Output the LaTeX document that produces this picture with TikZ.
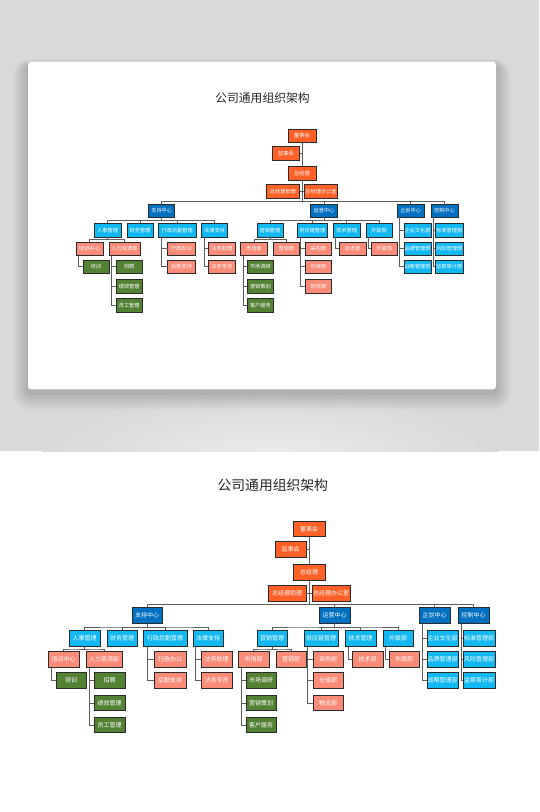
\documentclass[tikz,border=0pt]{standalone}
\usepackage{fontspec}
\newfontfamily\cjk{Noto Sans CJK SC}
\usetikzlibrary{calc,shadows,shadows.blur}
\definecolor{corange}{HTML}{FF6129}
\definecolor{cdblue}{HTML}{0070C0}
\definecolor{clblue}{HTML}{12B8F2}
\definecolor{cpink}{HTML}{F98B78}
\definecolor{cgreen}{HTML}{548235}
\definecolor{cborder}{HTML}{2B2B2B}
\definecolor{cline}{HTML}{5E5E5E}
\definecolor{bggray}{HTML}{D9D9D9}
\definecolor{bglight}{HTML}{ECECEC}
\definecolor{ctitle}{HTML}{262626}
\tikzset{
  box/.style={draw=cborder, line width=0.6pt, text=white,
    font=\cjk\fontsize{6}{7}\selectfont, inner sep=0pt, minimum height=15.5pt,
    drop shadow={shadow xshift=0.7pt, shadow yshift=-0.7pt, fill=black, opacity=0.25}},
  obox/.style={box, fill=corange},
  dbox/.style={box, fill=cdblue},
  lbox/.style={box, fill=clblue},
  pbox/.style={box, fill=cpink},
  gbox/.style={box, fill=cgreen},
  conn/.style={draw=cline, line width=0.7pt},
}
\newcommand\onode[6]{\node[#2, minimum width=#5pt] (#1) at (#3,#4) {#6};}
\newcommand\orgtree[2]{\draw[conn] (#1.south) |- ($(#1.south)!0.5!(#2.north)$) -| (#2.north);}
\newcommand\orgelbow[2]{\draw[conn] ($(#1.south west)!0.1!(#1.south east)$) |- (#2.west);}
\newcommand\orgchart{%
  \onode{dsh}{obox}{309}{529}{32}{董事会}
  \onode{jsh}{obox}{290.5}{549.5}{31}{监事会}
  \onode{zjl}{obox}{309}{572.5}{32}{总经理}
  \onode{zl}{obox}{287}{593.5}{38}{总经理助理}
  \onode{bgs}{obox}{331}{593.5}{38}{总经理办公室}
  \onode{zc}{dbox}{147}{615.5}{30}{支持中心}
  \onode{yy}{dbox}{334.5}{615.5}{31}{运营中心}
  \onode{qh}{dbox}{434.5}{615.5}{31}{企划中心}
  \onode{kz}{dbox}{473.5}{615.5}{31}{控制中心}
  \onode{rs}{lbox}{84.5}{638.5}{31}{人事管理}
  \onode{cw}{lbox}{122}{638.5}{30}{财务管理}
  \onode{xz}{lbox}{165}{638.5}{44}{行政后勤管理}
  \onode{fl}{lbox}{208}{638.5}{30}{法律支持}
  \onode{yx}{lbox}{272}{638.5}{30}{营销管理}
  \onode{gy}{lbox}{321}{638.5}{34}{供应链管理}
  \onode{js}{lbox}{360.5}{638.5}{31}{技术管理}
  \onode{wl}{lbox}{398}{638.5}{30}{外联部}
  \onode{qy}{lbox}{442.5}{638.5}{31}{企业文化部}
  \onode{bz}{lbox}{479}{638.5}{32}{标准管理部}
  \onode{px}{pbox}{63.5}{659.5}{31}{培训中心}
  \onode{rl}{pbox}{104}{659.5}{36}{人力资源部}
  \onode{xzbg}{pbox}{170}{659.5}{32}{行政办公}
  \onode{fwzl}{pbox}{216.5}{659.5}{31}{法务助理}
  \onode{sc}{pbox}{253.5}{659.5}{31}{市场部}
  \onode{yxb}{pbox}{291}{659.5}{30}{营销部}
  \onode{cg}{pbox}{328}{659.5}{30}{采购部}
  \onode{jsb}{pbox}{367.5}{659.5}{31}{技术部}
  \onode{wlb}{pbox}{404}{659.5}{30}{外联部}
  \onode{pp}{lbox}{442.5}{659.5}{31}{品牌管理部}
  \onode{fx}{lbox}{479}{659.5}{32}{风险管理部}
  \onode{pxx}{gbox}{71}{680.5}{30}{培训}
  \onode{zp}{gbox}{109.5}{680.5}{31}{招聘}
  \onode{hq}{pbox}{170}{680.5}{32}{后勤支持}
  \onode{fwzy}{pbox}{216.5}{680.5}{31}{法务专员}
  \onode{scdy}{gbox}{261}{680.5}{30}{市场调研}
  \onode{cc}{pbox}{328}{680.5}{30}{仓储部}
  \onode{zlgl}{lbox}{442.5}{680.5}{31}{战略管理部}
  \onode{jc}{lbox}{479}{680.5}{32}{监察审计部}
  \onode{jx}{gbox}{109.5}{703}{31}{绩效管理}
  \onode{yxch}{gbox}{261}{703}{30}{营销策划}
  \onode{wlx}{pbox}{328}{703}{30}{物流部}
  \onode{yg}{gbox}{109.5}{725}{31}{员工管理}
  \onode{kh}{gbox}{261}{725}{30}{客户服务}
  % connectors
  \draw[conn] (dsh.south) -- (zjl.north);
  \draw[conn] (jsh.east) -- (jsh.east -| dsh.south);
  \draw[conn] (zl.east) -- (bgs.west);
  \coordinate (bus) at ($(zjl.south)!0.89!(zc.north)$);
  \foreach \c in {zc,yy,qh,kz}{\draw[conn] (zjl.south) |- (bus) -| (\c.north);}
  \foreach \c in {rs,cw,xz,fl}{\orgtree{zc}{\c}}
  \foreach \c in {yx,gy,js,wl}{\orgtree{yy}{\c}}
  \foreach \c in {px,rl}{\orgtree{rs}{\c}}
  \foreach \c in {sc,yxb}{\orgtree{yx}{\c}}
  \orgelbow{px}{pxx}
  \foreach \c in {zp,jx,yg}{\orgelbow{rl}{\c}}
  \foreach \c in {xzbg,hq}{\orgelbow{xz}{\c}}
  \foreach \c in {fwzl,fwzy}{\orgelbow{fl}{\c}}
  \foreach \c in {scdy,yxch,kh}{\orgelbow{sc}{\c}}
  \foreach \c in {cg,cc,wlx}{\orgelbow{gy}{\c}}
  \orgelbow{js}{jsb}
  \orgelbow{wl}{wlb}
  \foreach \c in {qy,pp,zlgl}{\orgelbow{qh}{\c}}
  \foreach \c in {bz,fx,jc}{\orgelbow{kz}{\c}}
}
\begin{document}
\begin{tikzpicture}[x=1pt,y=-1pt]
\useasboundingbox (0,0) rectangle (539,812);
\fill[white] (0,0) rectangle (539,812);
% grey backdrop
\begin{scope}
  \clip (0,0) rectangle (539,451);
  \fill[bggray] (0,0) rectangle (539,451);
  \shade[inner color=bglight, outer color=bggray] (270,460) ellipse (230 and 70);
  % soft card shadow
  \foreach \i in {1,...,14}{
    \fill[black, opacity=0.012, rounded corners={4+\i}]
      (28-\i*1.1,61.7-\i*0.4+3) rectangle (496+\i*1.1,389.3+\i*1.3+3);
  }
\end{scope}
% card
\fill[white, rounded corners=3pt] (28,61.7) rectangle (496,389.3);
% top (small) chart
\node[font=\cjk\fontsize{11.8}{14}\selectfont, text=ctitle] (ttitle) at (262.5,97.7) {公司通用组织架构};
\begin{scope}[shift={(34.4,-322.5)}, scale=0.866, transform shape, name prefix=t]
  \orgchart
\end{scope}
% bottom (large) chart
\node[font=\cjk\fontsize{13.8}{16}\selectfont, text=ctitle] (btitle) at (272.8,485.5) {公司通用组织架构};
\orgchart
\end{tikzpicture}
\end{document}
